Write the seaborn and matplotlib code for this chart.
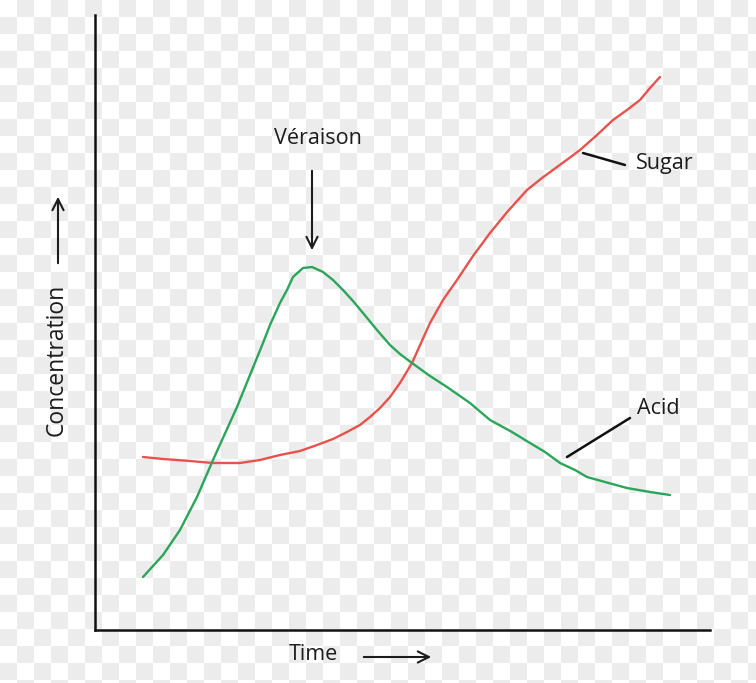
import numpy as np
import pandas as pd
import seaborn as sns
import matplotlib.pyplot as plt
from matplotlib.colors import ListedColormap
from matplotlib.patches import FancyArrowPatch

sns.set_style("white")
plt.rcParams['font.family'] = ['Open Sans', 'DejaVu Sans']

# curves (arbitrary units, 0-615 on both axes)
sugar_time = [48, 68, 95, 118, 145, 165, 185, 205, 222, 238, 252, 265, 275, 285,
              295, 305, 317, 326, 335, 348, 362, 378, 395, 413, 432, 447, 462,
              473, 485, 502, 518, 532, 545, 555, 565]
sugar_conc = [173, 171, 169, 167, 167, 170, 175, 179, 185, 191, 198, 205, 213, 222,
              233, 247, 267, 287, 307, 330, 350, 374, 397, 419, 440, 452, 463,
              471, 480, 495, 510, 520, 530, 542, 553]

acid_time = [48, 68, 85, 102, 118, 142, 155, 168, 175, 185, 192, 198, 208, 217,
             228, 238, 248, 258, 268, 282, 295, 305, 317, 335, 352, 375, 395, 417,
             435, 450, 465, 480, 492, 510, 532, 555, 575]
acid_conc = [53, 75, 100, 133, 170, 223, 255, 287, 305, 327, 340, 353, 362, 363,
             358, 350, 340, 329, 317, 300, 285, 276, 267, 254, 243, 227, 210, 198,
             187, 178, 167, 160, 153, 148, 142, 138, 135]

fig = plt.figure(figsize=(7.56, 6.83), dpi=100)

# checkered backdrop
bg = fig.add_axes([0, 0, 1, 1], zorder=-1)
tiles = (np.indices((41, 45)).sum(axis=0) % 2).astype(float)
bg.imshow(tiles, cmap=ListedColormap(['#ffffff', '#ececec']),
          extent=[0, 45 * 17, 41 * 17, 0], interpolation='nearest')
bg.set_xlim(0, 756)
bg.set_ylim(683, 0)
bg.axis('off')

ax = fig.add_axes([95 / 756, 53 / 683, 615 / 756, 615 / 683])
ax.patch.set_alpha(0)

df = pd.concat([
    pd.DataFrame({'time': sugar_time, 'conc': sugar_conc, 'series': 'Sugar'}),
    pd.DataFrame({'time': acid_time, 'conc': acid_conc, 'series': 'Acid'}),
])
sns.lineplot(data=df, x='time', y='conc', hue='series', sort=False,
             palette={'Sugar': '#e8524c', 'Acid': '#2aa65a'},
             linewidth=1.7, legend=False, ax=ax,
             solid_joinstyle='round', solid_capstyle='round')

ax.set_xlim(0, 615)
ax.set_ylim(0, 615)
ax.set_xticks([])
ax.set_yticks([])
ax.set_xlabel('')
ax.set_ylabel('')
sns.despine(ax=ax)
for s in ['left', 'bottom']:
    ax.spines[s].set_linewidth(1.8)
    ax.spines[s].set_color('#111111')

txt = dict(fontsize=15.5, color='#1c1c1c')
ax.text(223, 492, 'Véraison', ha='center', va='center', **txt)
ax.annotate('', xy=(217, 377), xytext=(217, 462),
            arrowprops=dict(arrowstyle='->', lw=1.5, color='#1c1c1c',
                            mutation_scale=20))

ax.plot([488, 530], [477, 465], color='#111111', lw=1.8)
ax.text(541, 467, 'Sugar', ha='left', va='center', **txt)

ax.plot([472, 535], [173, 212], color='#111111', lw=1.8)
ax.text(542, 221, 'Acid', ha='left', va='center', **txt)

# axis captions with arrows, in figure pixels
fig.text(313 / 756, 1 - 655 / 683, 'Time', ha='center', va='center', **txt)
fig.add_artist(FancyArrowPatch(
    (361 / 756, 1 - 657 / 683), (434 / 756, 1 - 657 / 683),
    transform=fig.transFigure, arrowstyle='->', lw=1.5, color='#1c1c1c',
    mutation_scale=20))
fig.text(57 / 756, 1 - 360 / 683, 'Concentration', rotation=90,
         ha='center', va='center', fontsize=16.5, color='#1c1c1c')
fig.add_artist(FancyArrowPatch(
    (58 / 756, 1 - 266 / 683), (58 / 756, 1 - 194 / 683),
    transform=fig.transFigure, arrowstyle='->', lw=1.5, color='#1c1c1c',
    mutation_scale=20))

fig.savefig('out.png', dpi=100)
